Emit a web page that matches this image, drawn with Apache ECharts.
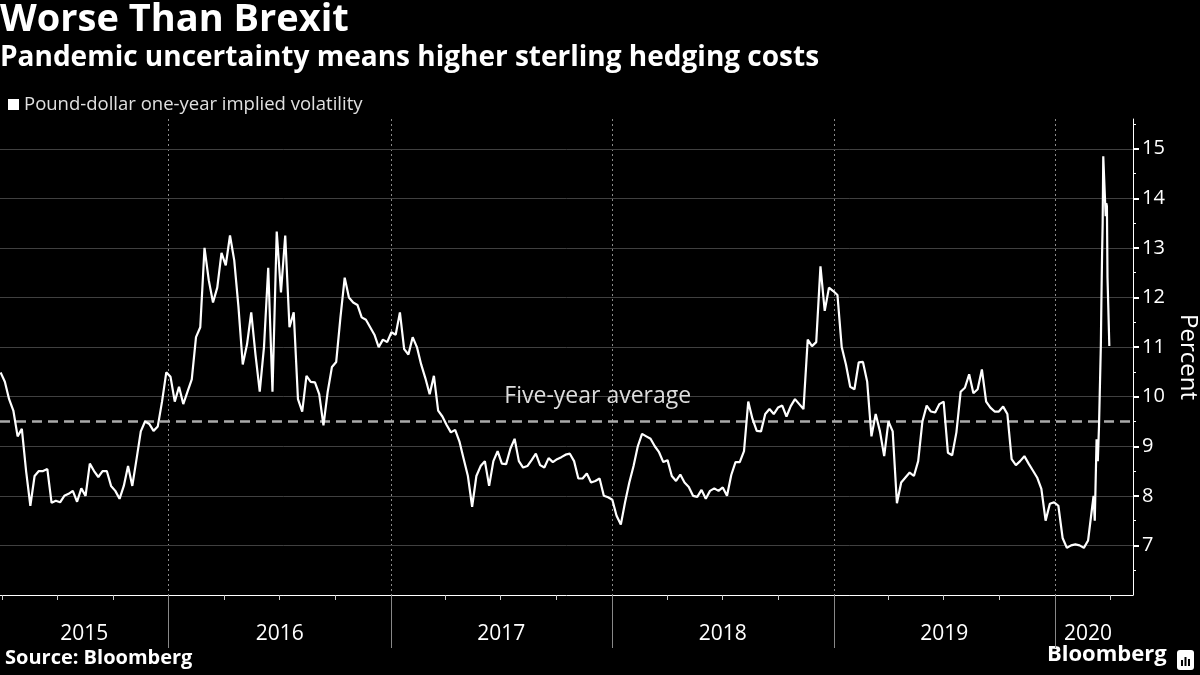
<!DOCTYPE html>
<html><head><meta charset="utf-8">
<script src="https://cdn.jsdelivr.net/npm/echarts@6/dist/echarts.min.js"></script>
<style>html,body{margin:0;padding:0;background:#000}#c{width:1200px;height:675px}</style>
</head><body><div id="c"></div>
<script>
const titleText = 'Worse Than Brexit';
const subtitleText = 'Pandemic uncertainty means higher sterling hedging costs';
const seriesName = 'Pound-dollar one-year implied volatility';
const averageLabel = 'Five-year average';
const averageValue = 9.5;
const sourceText = 'Source: Bloomberg';
const yAxisName = 'Percent';

// weekly readings starting 2015-03-30
const weeklyStart = '2015-03-30';
const weeklyValues = [
  10.49, 10.3, 9.95, 9.72, 9.2, 9.35, 8.5, 7.8, 8.4, 8.5,
  8.5, 8.54, 7.86, 7.9, 7.87, 8.0, 8.04, 8.1, 7.88, 8.15,
  8.0, 8.65, 8.5, 8.38, 8.5, 8.5, 8.2, 8.1, 7.94, 8.2,
  8.6, 8.2, 8.74, 9.3, 9.5, 9.45, 9.31, 9.4, 9.9, 10.49,
  10.4, 9.9, 10.2, 9.85, 10.1, 10.35, 11.2, 11.4, 13.0, 12.35,
  11.9, 12.2, 12.9, 12.65, 13.25, 12.75, 11.8, 10.65, 11.05, 11.7,
  10.85, 10.1, 11.0, 12.6, 10.1, 13.33, 12.1, 13.25, 11.4, 11.7,
  9.95, 9.7, 10.42, 10.3, 10.29, 10.05, 9.42, 10.1, 10.6, 10.7,
  11.6, 12.4, 12.0, 11.9, 11.85, 11.6, 11.55, 11.4, 11.25, 11.0,
  11.15, 11.1, 11.3, 11.25, 11.7, 10.96, 10.85, 11.2, 11.0, 10.65,
  10.37, 10.05, 10.42, 9.72, 9.6, 9.43, 9.28, 9.33, 9.1, 8.75,
  8.4, 7.78, 8.4, 8.6, 8.7, 8.2, 8.7, 8.9, 8.65, 8.64,
  8.95, 9.15, 8.7, 8.57, 8.6, 8.72, 8.85, 8.62, 8.57, 8.76,
  8.68, 8.74, 8.78, 8.83, 8.85, 8.7, 8.35, 8.35, 8.45, 8.27,
  8.3, 8.35, 8.0, 7.97, 7.92, 7.6, 7.42, 7.87, 8.27, 8.6,
  9.0, 9.25, 9.2, 9.15, 9.0, 8.88, 8.68, 8.72, 8.4, 8.3,
  8.43, 8.27, 8.18, 8.0, 7.98, 8.12, 7.94, 8.1, 8.15, 8.1,
  8.17, 8.0, 8.42, 8.68, 8.68, 8.9, 9.9, 9.55, 9.31, 9.3,
  9.65, 9.75, 9.65, 9.78, 9.82, 9.6, 9.81, 9.95, 9.85, 9.75,
  11.15, 11.02, 11.1, 12.63, 11.73, 12.2, 12.13, 12.05, 11.0, 10.65,
  10.2, 10.15, 10.69, 10.7, 10.3, 9.2, 9.65, 9.3, 8.8, 9.5,
  9.3, 7.85, 8.27, 8.37, 8.47, 8.4, 8.7, 9.5, 9.82, 9.7,
  9.68, 9.85, 9.9, 8.87, 8.82, 9.28, 10.1, 10.18, 10.45, 10.07,
  10.15, 10.55, 9.9, 9.78, 9.7, 9.7, 9.8, 9.65, 8.74, 8.62,
  8.7, 8.8, 8.65, 8.51, 8.37, 8.14, 7.5, 7.84, 7.87, 7.8,
  7.15, 6.95, 7.0, 7.02, 7.0, 6.95, 7.1
];
// daily readings, March 2020
const marchDates = ['2020-03-02','2020-03-03','2020-03-04','2020-03-05','2020-03-06',
  '2020-03-09','2020-03-10','2020-03-11','2020-03-12','2020-03-13',
  '2020-03-16','2020-03-17','2020-03-18','2020-03-19','2020-03-20',
  '2020-03-23','2020-03-24','2020-03-25','2020-03-26','2020-03-27','2020-03-30'];
const marchValues = [7.8, 7.9, 8.0, 7.98, 7.5, 9.14, 8.9, 8.7, 8.67, 9.41,
  11.02, 12.0, 12.83, 13.5, 14.85, 14.85, 13.64, 13.9, 13.84, 12.4, 11.02];

const xMinDate = '2015-03-29';
const xMaxDate = '2020-05-08';
const yearBoundaries = ['2016-01-01','2017-01-01','2018-01-01','2019-01-01','2020-01-01'];
const quarterTicks = ['2015-04-01','2015-07-01','2015-10-01',
  '2016-04-01','2016-07-01','2016-10-01','2017-04-01','2017-07-01','2017-10-01',
  '2018-04-01','2018-07-01','2018-10-01','2019-04-01','2019-07-01','2019-10-01','2020-04-01'];
const yearLabelDates = ['2015-08-15','2016-07-02','2017-07-02','2018-07-02','2019-07-02','2020-02-24'];
const yMajorTicks = [7, 8, 9, 10, 11, 12, 13, 14, 15];
const yMinorTicks = [6.5, 7.5, 8.5, 9.5, 10.5, 11.5, 12.5, 13.5, 14.5, 15.5];
const yMin = 6, yMax = 15.6;
const averageLabelDate = '2017-12-08';

function ts(s) { const p = s.split('-').map(Number); return new Date(p[0], p[1] - 1, p[2]).getTime(); }
const sp = weeklyStart.split('-').map(Number);
const seriesData = weeklyValues.map((v, i) => [new Date(sp[0], sp[1] - 1, sp[2] + 7 * i).getTime(), v])
  .concat(marchDates.map((d, i) => [ts(d), marchValues[i]]));

const FONT = '"Open Sans", "Noto Sans", sans-serif';
const xMin = ts(xMinDate), xMax = ts(xMaxDate);
const gridRect = { left: 0, right: 67, top: 119, bottom: 80, containLabel: false, outerBoundsMode: 'none' };
const vGridStyle = { color: '#8a8a8a', type: [2, 3], width: 1 };
const hGridStyle = { color: '#404040', type: 'solid', width: 1 };

const chart = echarts.init(document.getElementById('c'), null, { renderer: 'canvas' });
chart.setOption({
  backgroundColor: '#000',
  animation: false,
  title: [
    { text: titleText, left: 0, top: 1, padding: 0,
      textStyle: { color: '#fff', fontSize: 38, fontWeight: 'bold', fontFamily: FONT } },
    { text: subtitleText, left: 0, top: 44, padding: 0,
      textStyle: { color: '#fff', fontSize: 28, fontWeight: 'bold', fontFamily: FONT } }
  ],
  legend: {
    data: [seriesName], left: 3, top: 90, icon: 'rect', itemWidth: 11, itemHeight: 11, itemGap: 6,
    textStyle: { color: '#e0e0e0', fontSize: 18.5, fontFamily: FONT }
  },
  grid: [Object.assign({}, gridRect), Object.assign({}, gridRect), Object.assign({}, gridRect)],
  xAxis: [
    { type: 'value', gridIndex: 0, min: xMin, max: xMax, position: 'bottom', scale: true,
      axisLine: { show: true, lineStyle: { color: '#fff', width: 1 } },
      axisTick: { show: true, customValues: quarterTicks.map(ts), length: 5, lineStyle: { color: '#ccc' } },
      axisLabel: { show: false }, splitLine: { show: false } },
    { type: 'value', gridIndex: 1, min: xMin, max: xMax, position: 'bottom', scale: true,
      axisLine: { show: false },
      axisTick: { show: true, customValues: yearBoundaries.map(ts), length: 53, lineStyle: { color: '#888', width: 1 } },
      axisLabel: { show: false },
      splitLine: { show: true, lineStyle: vGridStyle } },
    { type: 'value', gridIndex: 2, min: xMin, max: xMax, position: 'bottom', scale: true,
      axisLine: { show: false }, axisTick: { show: false },
      axisLabel: { show: true, customValues: yearLabelDates.map(ts), color: '#fff', fontSize: 21, fontFamily: FONT,
        margin: 29, formatter: v => String(new Date(v).getFullYear()) },
      splitLine: { show: false } }
  ],
  yAxis: [
    { type: 'value', gridIndex: 0, min: yMin, max: yMax, position: 'right',
      name: yAxisName, nameLocation: 'middle', nameRotate: -90, nameGap: 42,
      nameTextStyle: { color: '#fff', fontSize: 24, fontFamily: FONT },
      axisLine: { show: true, lineStyle: { color: '#fff', width: 1 } },
      axisTick: { show: true, customValues: yMajorTicks, length: 6, lineStyle: { color: '#fff', width: 2 } },
      axisLabel: { show: true, customValues: yMajorTicks, color: '#fff', fontSize: 20, fontFamily: FONT, margin: 9 },
      splitLine: { show: false } },
    { type: 'value', gridIndex: 1, min: yMin, max: yMax, position: 'right',
      axisLine: { show: false },
      axisTick: { show: true, customValues: yMinorTicks, length: 3, lineStyle: { color: '#fff', width: 1 } },
      axisLabel: { show: false }, splitLine: { show: false } },
    { type: 'value', gridIndex: 2, min: yMin, max: yMax, position: 'right', show: false }
  ],
  series: [{
    name: seriesName, type: 'line', xAxisIndex: 0, yAxisIndex: 0, z: 3,
    data: seriesData, showSymbol: false, symbol: 'none',
    itemStyle: { color: '#fff' },
    lineStyle: { color: '#fff', width: 2.2 },
    markLine: {
      silent: true, symbol: 'none', label: { show: false }, z: 1,
      data: yMajorTicks.map(v => ({ yAxis: v, lineStyle: Object.assign({}, hGridStyle) }))
        .concat([{ yAxis: averageValue, lineStyle: { color: '#aaa', type: [10, 6], width: 2.5 } }])
    },
    markPoint: {
      silent: true, symbol: 'circle', symbolSize: 0,
      label: { show: true, formatter: averageLabel, color: '#ddd', fontSize: 23, fontFamily: FONT,
        position: 'inside', offset: [0, -25] },
      data: [{ coord: [ts(averageLabelDate), averageValue] }]
    }
  }],
  graphic: [
    { type: 'text', left: 5, top: 648,
      style: { text: sourceText, fill: '#fff', font: 'bold 20px ' + FONT } },
    { type: 'text', left: 1047, top: 644,
      style: { text: 'Bloomberg', fill: '#fff', font: 'bold 22px ' + FONT } },
    { type: 'rect', left: 1177, top: 650, shape: { width: 17, height: 20, r: 3 }, style: { fill: '#fff' } },
    { type: 'rect', left: 1181, top: 660, shape: { width: 2, height: 6 }, style: { fill: '#000' } },
    { type: 'rect', left: 1184.5, top: 657, shape: { width: 2, height: 9 }, style: { fill: '#000' } },
    { type: 'rect', left: 1188, top: 659, shape: { width: 2, height: 7 }, style: { fill: '#000' } }
  ]
});
</script></body></html>
